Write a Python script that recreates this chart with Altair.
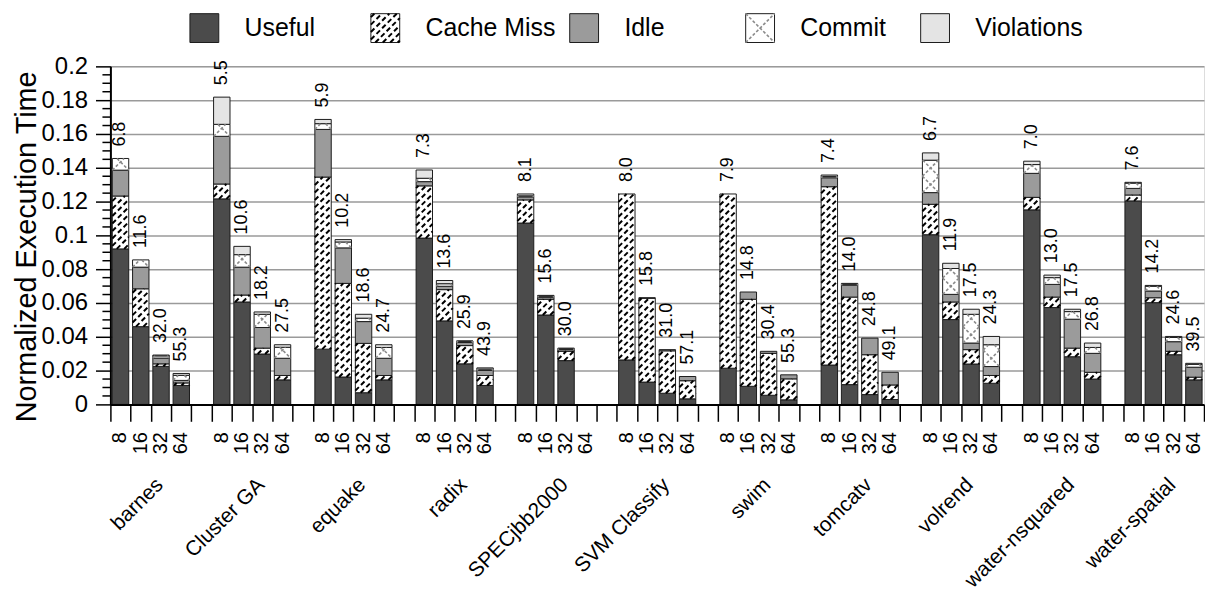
import math
import altair as alt
import pandas as pd

GROUPS = ["barnes", "Cluster GA", "equake", "radix", "SPECjbb2000", "SVM Classify",
          "swim", "tomcatv", "volrend", "water-nsquared", "water-spatial"]
THREADS = ["8", "16", "32", "64"]
SERIES = ["Useful", "Cache Miss", "Idle", "Commit", "Violations"]

USEFUL = [0.0920, 0.0460, 0.0225, 0.0112,
          0.1216, 0.0606, 0.0298, 0.0145,
          0.0327, 0.0162, 0.0069, 0.0145,
          0.0984, 0.0494, 0.0240, 0.0112,
          0.1073, 0.0529, 0.0259, None,
          0.0263, 0.0132, 0.0066, 0.0033,
          0.0214, 0.0107, 0.0054, 0.0027,
          0.0233, 0.0117, 0.0058, 0.0029,
          0.1004, 0.0502, 0.0239, 0.0125,
          0.1151, 0.0573, 0.0282, 0.0150,
          0.1204, 0.0602, 0.0294, 0.0145]
CACHE = [0.0313, 0.0224, 0.0015, 0.0015,
         0.0088, 0.0041, 0.0035, 0.0026,
         0.1018, 0.0554, 0.0292, 0.0026,
         0.0309, 0.0185, 0.0108, 0.0059,
         0.0137, 0.0093, 0.0055, None,
         0.0982, 0.0496, 0.0251, 0.0107,
         0.1031, 0.0515, 0.0248, 0.0124,
         0.1055, 0.0518, 0.0236, 0.0086,
         0.0180, 0.0104, 0.0085, 0.0046,
         0.0074, 0.0062, 0.0051, 0.0040,
         0.0035, 0.0029, 0.0020, 0.0016]
IDLE = [0.0153, 0.0128, 0.0034, 0.0015,
        0.0282, 0.0165, 0.0122, 0.0102,
        0.0282, 0.0210, 0.0129, 0.0102,
        0.0025, 0.0020, 0.0018, 0.0030,
        0.0018, 0.0012, 0.0010, None,
        0.0000, 0.0003, 0.0007, 0.0025,
        0.0000, 0.0043, 0.0012, 0.0024,
        0.0053, 0.0071, 0.0098, 0.0075,
        0.0069, 0.0045, 0.0039, 0.0053,
        0.0142, 0.0075, 0.0171, 0.0112,
        0.0039, 0.0040, 0.0057, 0.0059]
COMMIT = [0.0069, 0.0043, 0.0013, 0.0030,
          0.0071, 0.0074, 0.0078, 0.0065,
          0.0034, 0.0035, 0.0020, 0.0064,
          0.0020, 0.0015, 0.0008, 0.0008,
          0.0006, 0.0006, 0.0005, None,
          0.0000, 0.0000, 0.0000, 0.0000,
          0.0000, 0.0000, 0.0000, 0.0000,
          0.0008, 0.0005, 0.0000, 0.0000,
          0.0192, 0.0153, 0.0170, 0.0129,
          0.0052, 0.0040, 0.0045, 0.0035,
          0.0031, 0.0028, 0.0025, 0.0017]
VIOL = [0.0000, 0.0000, 0.0005, 0.0011,
        0.0161, 0.0049, 0.0014, 0.0015,
        0.0025, 0.0014, 0.0023, 0.0016,
        0.0049, 0.0019, 0.0001, 0.0007,
        0.0011, 0.0005, 0.0004, None,
        0.0000, 0.0000, 0.0000, 0.0000,
        0.0000, 0.0000, 0.0000, 0.0000,
        0.0008, 0.0005, 0.0000, 0.0000,
        0.0043, 0.0031, 0.0030, 0.0049,
        0.0020, 0.0015, 0.0014, 0.0026,
        0.0005, 0.0005, 0.0006, 0.0006]
SPEEDUP = [6.8, 11.6, 32.0, 55.3,
           5.5, 10.6, 18.2, 27.5,
           5.9, 10.2, 18.6, 24.7,
           7.3, 13.6, 25.9, 43.9,
           8.1, 15.6, 30.0, None,
           8.0, 15.8, 31.0, 57.1,
           7.9, 14.8, 30.4, 55.3,
           7.4, 14.0, 24.8, 49.1,
           6.7, 11.9, 17.5, 24.3,
           7.0, 13.0, 17.5, 26.8,
           7.6, 14.2, 24.6, 39.5]

FILLS = ["#4b4b4b", "#ffffff", "#9b9b9b", "#ffffff", "#e4e4e4"]

# ---- layout ----
W, H = 1100, 340
NSLOT = len(GROUPS) * 5 - 1
YMAX = 0.2
PXX = W / NSLOT
PXY = H / YMAX
PAD = 0.095
FONT = "Liberation Sans"

# legend layout (pixels relative to plot origin)
LEG_POS = [80, 262, 462, 639, 815]
LEG_SW = 29
LEG_TOP, LEG_BOT = 53, 24


def diag_lines(x0, x1, y0, y1, step, slope, anchor):
    X0, X1, Y0, Y1 = x0 * PXX, x1 * PXX, y0 * PXY, y1 * PXY
    out = []
    if slope > 0:
        cmin, cmax = X0 - Y1, X1 - Y0
        c = anchor + math.ceil((cmin - anchor) / step) * step
        while c <= cmax:
            lo, hi = max(X0, Y0 + c), min(X1, Y1 + c)
            if hi - lo > 0.4:
                out.append((lo, lo - c, hi, hi - c))
            c += step
    else:
        cmin, cmax = X0 + Y0, X1 + Y1
        c = anchor + math.ceil((cmin - anchor) / step) * step
        while c <= cmax:
            lo, hi = max(X0, c - Y1), min(X1, c - Y0)
            if hi - lo > 0.4:
                out.append((lo, c - lo, hi, c - hi))
            c += step
    return [dict(hx0=a / PXX, hy0=b / PXY, hx1=cc / PXX, hy1=d / PXY) for a, b, cc, d in out]


seg_rows, tot_rows, thr_rows, grp_rows, leg_rows = [], [], [], [], []
ARRS = [USEFUL, CACHE, IDLE, COMMIT, VIOL]
for gi, g in enumerate(GROUPS):
    grp_rows.append(dict(gx=gi * 5 + 2.45, g=g))
    for ti, t in enumerate(THREADS):
        slot = gi * 5 + ti
        thr_rows.append(dict(xc=slot + 0.5, t=t))
        k = gi * 4 + ti
        if USEFUL[k] is None:
            continue
        base = 0.0
        for s, arr in zip(SERIES, ARRS):
            v = arr[k]
            if v > 0:
                seg_rows.append(dict(series=s, x0=slot + PAD, x1=slot + 1 - PAD, y0=base, y1=base + v))
            base += v
        tot_rows.append(dict(xc=slot + 0.5, total=base, label=f"{SPEEDUP[k]:.1f}"))

for i, s in enumerate(SERIES):
    lx0 = LEG_POS[i] / PXX
    lx1 = lx0 + LEG_SW / PXX
    ly0 = YMAX + LEG_BOT / PXY
    ly1 = YMAX + LEG_TOP / PXY
    seg_rows.append(dict(series=s, x0=lx0, x1=lx1, y0=ly0, y1=ly1))
    leg_rows.append(dict(lx=lx1 + 26 / PXX, ly=(ly0 + ly1) / 2, s=s))

cache_lines, commit_lines = [], []
for r in seg_rows:
    if r["series"] == "Cache Miss":
        cache_lines += diag_lines(r["x0"], r["x1"], r["y0"], r["y1"], 7.5, 1, 0.0)
    elif r["series"] == "Commit":
        bw = (r["x1"] - r["x0"]) * PXX
        commit_lines += diag_lines(r["x0"], r["x1"], r["y0"], r["y1"], bw, 1,
                                   r["x0"] * PXX - r["y0"] * PXY)
        commit_lines += diag_lines(r["x0"], r["x1"], r["y0"], r["y1"], bw, -1,
                                   r["x0"] * PXX + r["y0"] * PXY)

seg_df = pd.DataFrame(seg_rows)
tot_df = pd.DataFrame(tot_rows)
thr_df = pd.DataFrame(thr_rows)
grp_df = pd.DataFrame(grp_rows)
leg_df = pd.DataFrame(leg_rows)
cache_df = pd.DataFrame(cache_lines)
commit_df = pd.DataFrame(commit_lines)
MINOR = [round(i * 0.005, 3) for i in range(41) if i % 4 != 0]
minor_df = pd.DataFrame({"m": MINOR})

xs = alt.Scale(domain=[0, NSLOT], nice=False, zero=False)
ys = alt.Scale(domain=[0, YMAX], nice=False)
X_AX = alt.Axis(values=list(range(NSLOT + 1)), labels=False, ticks=True, tickSize=17,
                tickColor="black", tickWidth=1.5, domainColor="black", domainWidth=2,
                grid=False, title=None, zindex=1)
Y_AX = alt.Axis(values=[round(i * 0.02, 2) for i in range(11)],
                labelExpr="datum.value == 0 ? '0' : format(datum.value, '.2~f')",
                grid=True, gridColor="#9a9a9a", gridWidth=1.5,
                tickSize=15, tickColor="black", tickWidth=1.5,
                domainColor="black", domainWidth=2,
                labelFontSize=24, labelPadding=8, labelColor="black", labelFont=FONT,
                title="Normalized Execution Time", titleFontSize=29, titleY=181,
                titleFontWeight="normal", titleColor="black", titlePadding=0, titleFont=FONT)


def X(f):
    return alt.X(f, type="quantitative", scale=xs, axis=X_AX)


def Y(f):
    return alt.Y(f, type="quantitative", scale=ys, axis=Y_AX)


bars = alt.Chart(seg_df).mark_rect(stroke="#1c1c1c", strokeWidth=1).encode(
    x=X("x0"), x2="x1", y=Y("y0"), y2="y1",
    fill=alt.Fill("series:N", scale=alt.Scale(domain=SERIES, range=FILLS), legend=None),
)
hatch_cache = alt.Chart(cache_df).mark_rule(color="black", strokeWidth=2, strokeDash=[5, 3]).encode(
    x=X("hx0"), x2="hx1", y=Y("hy0"), y2="hy1")
hatch_commit = alt.Chart(commit_df).mark_rule(color="#8a8a8a", strokeWidth=1.6, strokeDash=[3, 2]).encode(
    x=X("hx0"), x2="hx1", y=Y("hy0"), y2="hy1")
minor = alt.Chart(minor_df).mark_rule(color="black", strokeWidth=1.5).encode(
    y=Y("m"), x=alt.value(-8), x2=alt.value(0))
vals = alt.Chart(tot_df).mark_text(angle=270, align="left", baseline="middle", fontSize=18,
                                   yOffset=-12, font=FONT, color="black").encode(
    x=X("xc"), y=Y("total"), text="label:N")
thr = alt.Chart(thr_df).mark_text(angle=270, align="right", baseline="middle", fontSize=20,
                                  font=FONT, color="black").encode(
    x=X("xc"), y=alt.value(H + 28), text="t:N")
grp = alt.Chart(grp_df).mark_text(angle=315, align="right", baseline="middle", fontSize=21,
                                  font=FONT, color="black").encode(
    x=X("gx"), y=alt.value(H + 78), text="g:N")
legtxt = alt.Chart(leg_df).mark_text(align="left", baseline="middle", fontSize=25,
                                     font=FONT, color="black").encode(
    x=X("lx"), y=Y("ly"), text="s:N")

chart = alt.layer(bars, hatch_cache, hatch_commit, minor, vals, thr, grp, legtxt).properties(
    width=W, height=H, padding={"left": 4, "top": 2, "right": 0, "bottom": 0}
).configure_view(stroke=None).configure(font=FONT)

chart.save("out.html", embed_options={"renderer": "svg", "actions": False})
